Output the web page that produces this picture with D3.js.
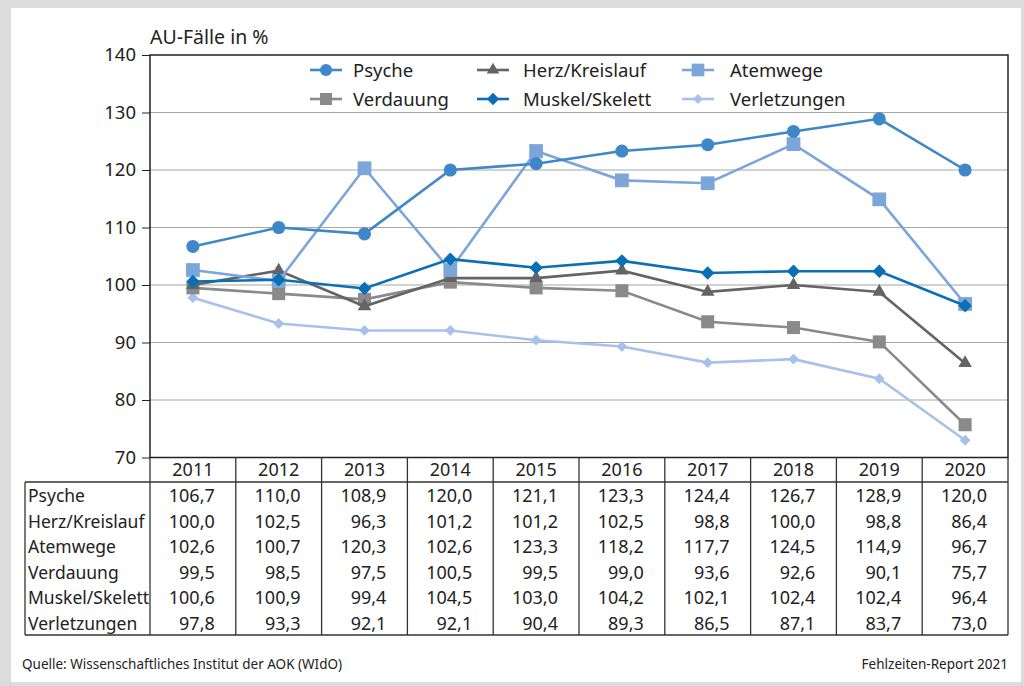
<!DOCTYPE html>
<html>
<head>
<meta charset="utf-8">
<script src="https://cdn.jsdelivr.net/npm/d3@7"></script>
<style>
  body { margin: 0; background: #dcdcdc; }
  svg { display: block; font-family: "Noto Sans", sans-serif; }
</style>
</head>
<body>
<svg id="chart" width="1024" height="686"></svg>
<script>
const years = ["2011", "2012", "2013", "2014", "2015", "2016", "2017", "2018", "2019", "2020"];
const seriesNames = ["Psyche", "Herz/Kreislauf", "Atemwege", "Verdauung", "Muskel/Skelett", "Verletzungen"];
const psyche = [106.7, 110.0, 108.9, 120.0, 121.1, 123.3, 124.4, 126.7, 128.9, 120.0];
const herzKreislauf = [100.0, 102.5, 96.3, 101.2, 101.2, 102.5, 98.8, 100.0, 98.8, 86.4];
const atemwege = [102.6, 100.7, 120.3, 102.6, 123.3, 118.2, 117.7, 124.5, 114.9, 96.7];
const verdauung = [99.5, 98.5, 97.5, 100.5, 99.5, 99.0, 93.6, 92.6, 90.1, 75.7];
const muskelSkelett = [100.6, 100.9, 99.4, 104.5, 103.0, 104.2, 102.1, 102.4, 102.4, 96.4];
const verletzungen = [97.8, 93.3, 92.1, 92.1, 90.4, 89.3, 86.5, 87.1, 83.7, 73.0];
const yTicks = [70, 80, 90, 100, 110, 120, 130, 140];

// rot = 45 turns a square into the flat diamond used in the original
const series = [
  {name: seriesNames[0], values: psyche, color: "#3e87c8", symbol: d3.symbolCircle, size: 135, rot: 0},
  {name: seriesNames[1], values: herzKreislauf, color: "#646464", symbol: d3.symbolTriangle, size: 80, rot: 0},
  {name: seriesNames[2], values: atemwege, color: "#7ca6da", symbol: d3.symbolSquare, size: 190, rot: 0},
  {name: seriesNames[3], values: verdauung, color: "#8a8a8a", symbol: d3.symbolSquare, size: 170, rot: 0},
  {name: seriesNames[4], values: muskelSkelett, color: "#0a6fb5", symbol: d3.symbolSquare, size: 90, rot: 45},
  {name: seriesNames[5], values: verletzungen, color: "#a6c2ea", symbol: d3.symbolSquare, size: 58, rot: 45},
];

const svg = d3.select("#chart");
const plotLeft = 150, plotRight = 1008, plotTop = 55, plotBottom = 457.5;
const fmt = v => v.toFixed(1).replace(".", ",");
const ink = "#222";

// frame
svg.append("rect").attr("x", 11).attr("y", 8).attr("width", 1010).attr("height", 674).attr("fill", "#fff");

const x = d3.scaleBand().domain(years).range([plotLeft, plotRight]);
const y = d3.scaleLinear().domain([70, 140]).range([plotBottom, plotTop]);
const cx = yr => x(yr) + x.bandwidth() / 2;

// grid
svg.append("g").selectAll("line")
  .data(yTicks.filter(t => t > 70 && t < 140))
  .join("line")
  .attr("x1", plotLeft).attr("x2", plotRight)
  .attr("y1", d => y(d)).attr("y2", d => y(d))
  .attr("stroke", "#a6a6a6").attr("stroke-width", 1.2);

// y axis
const yAxis = svg.append("g")
  .attr("transform", `translate(${plotLeft},0)`)
  .call(d3.axisLeft(y).tickValues(yTicks).tickSize(8).tickPadding(6));
yAxis.select(".domain").remove();
yAxis.selectAll("line").attr("stroke", ink);
yAxis.selectAll("text").attr("font-size", 18.5).attr("fill", ink).attr("font-family", "Noto Sans");

// plot border
svg.append("rect").attr("x", plotLeft).attr("y", plotTop).attr("width", plotRight - plotLeft).attr("height", plotBottom - plotTop)
  .attr("fill", "none").attr("stroke", ink).attr("stroke-width", 1.5);

svg.append("text").attr("x", plotLeft).attr("y", 44).attr("font-size", 19.5).attr("fill", ink).text("AU-Fälle in %");

// lines
const line = d3.line().x((d, i) => cx(years[i])).y(d => y(d));
const drawOrder = [5, 3, 1, 2, 4, 0];
drawOrder.forEach(k => {
  const s = series[k];
  const g = svg.append("g");
  g.append("path").attr("d", line(s.values)).attr("fill", "none")
    .attr("stroke", s.color).attr("stroke-width", 2.6);
  g.selectAll("path.mark").data(s.values).join("path").attr("class", "mark")
    .attr("transform", (d, i) => `translate(${cx(years[i])},${y(d)}) rotate(${s.rot})`)
    .attr("d", d3.symbol(s.symbol, s.size)())
    .attr("fill", s.color);
});

// legend
const legendCols = [310, 477, 682];
const legendText = [353, 523, 730];
const legendRows = [70, 99];
series.forEach((s, i) => {
  const c = i % 3, r = Math.floor(i / 3);
  const g = svg.append("g");
  const x0 = legendCols[c], yy = legendRows[r];
  g.append("line").attr("x1", x0).attr("x2", x0 + 32).attr("y1", yy).attr("y2", yy)
    .attr("stroke", s.color).attr("stroke-width", 2.6);
  g.append("path").attr("transform", `translate(${x0 + 16},${yy}) rotate(${s.rot})`)
    .attr("d", d3.symbol(s.symbol, s.size * 0.85)()).attr("fill", s.color);
  g.append("text").attr("x", legendText[c]).attr("y", yy + 6.5).attr("font-size", 18.5).attr("fill", ink).text(s.name);
});

// table
const tLeft = 25, headTop = plotBottom, headBottom = 482, rowH = 25.5;
const tBottom = headBottom + rowH * series.length;
const tbl = svg.append("g").attr("stroke", "#333").attr("stroke-width", 1.3);
tbl.append("line").attr("x1", tLeft).attr("x2", plotRight).attr("y1", headBottom).attr("y2", headBottom);
tbl.append("line").attr("x1", tLeft).attr("x2", plotRight).attr("y1", tBottom).attr("y2", tBottom);
tbl.append("line").attr("x1", tLeft).attr("x2", tLeft).attr("y1", headBottom).attr("y2", tBottom);
tbl.selectAll("line.col").data(years.concat(["end"])).join("line").attr("class", "col")
  .attr("x1", (d, i) => i < years.length ? x(d) : plotRight)
  .attr("x2", (d, i) => i < years.length ? x(d) : plotRight)
  .attr("y1", headTop).attr("y2", tBottom);

svg.append("g").selectAll("text").data(years).join("text")
  .attr("x", d => cx(d)).attr("y", 476)
  .attr("text-anchor", "middle").attr("font-size", 18).attr("fill", ink).text(d => d);

series.forEach((s, r) => {
  const yy = headBottom + rowH * r + 20;
  svg.append("text").attr("x", 28).attr("y", yy).attr("font-size", 17.5).attr("fill", ink).text(s.name);
  svg.append("g").selectAll("text").data(s.values).join("text")
    .attr("x", (d, i) => x(years[i]) + x.bandwidth() - 21).attr("y", yy)
    .attr("text-anchor", "end").attr("font-size", 18).attr("fill", ink).text(d => fmt(d));
});

// footer
svg.append("text").attr("x", 22).attr("y", 669).attr("font-size", 13.5).attr("fill", ink)
  .text("Quelle: Wissenschaftliches Institut der AOK (WIdO)");
svg.append("text").attr("x", 1008).attr("y", 669).attr("text-anchor", "end").attr("font-size", 13.5).attr("fill", ink)
  .text("Fehlzeiten-Report 2021");
</script>
</body>
</html>
